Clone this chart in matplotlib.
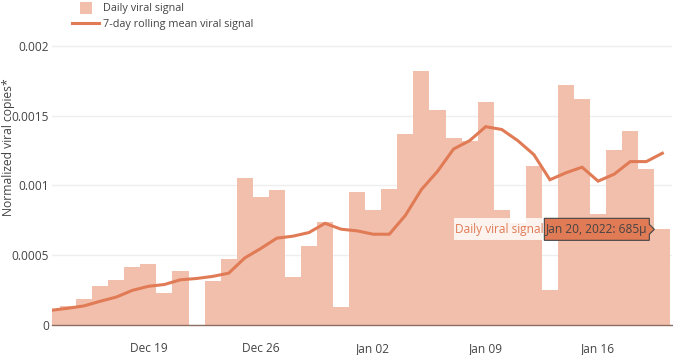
import matplotlib
matplotlib.use("Agg")
import matplotlib.pyplot as plt
from matplotlib.lines import Line2D
from matplotlib.patches import Polygon, Rectangle
import numpy as np

plt.rcParams['font.family'] = ['Open Sans', 'DejaVu Sans']

# ---- data ----
dates = ["Dec 13", "Dec 14", "Dec 15", "Dec 16", "Dec 17", "Dec 18", "Dec 19", "Dec 20",
         "Dec 21", "Dec 22", "Dec 23", "Dec 24", "Dec 25", "Dec 26", "Dec 27", "Dec 28",
         "Dec 29", "Dec 30", "Dec 31", "Jan 01", "Jan 02", "Jan 03", "Jan 04", "Jan 05",
         "Jan 06", "Jan 07", "Jan 08", "Jan 09", "Jan 10", "Jan 11", "Jan 12", "Jan 13",
         "Jan 14", "Jan 15", "Jan 16", "Jan 17", "Jan 18", "Jan 19", "Jan 20"]
daily_signal = [0.000106, 0.000135, 0.000184, 0.000277, 0.000319, 0.000418, 0.000440, 0.000229,
                0.000385, np.nan, 0.000317, 0.000475, 0.001050, 0.000915, 0.000967, 0.000343,
                0.000567, 0.000738, 0.000127, 0.000952, 0.000827, 0.000976, 0.001370, 0.001820,
                0.001540, 0.001340, 0.001320, 0.001600, 0.000827, 0.000733, 0.001140, 0.000248,
                0.001720, 0.001620, 0.000797, 0.001250, 0.001390, 0.001120, 0.000685]
rolling_mean = [0.000106, 0.000120, 0.000137, 0.000170, 0.000200, 0.000248, 0.000277, 0.000290,
                0.000324, 0.000333, 0.000348, 0.000371, 0.000480, 0.000548, 0.000622, 0.000636,
                0.000662, 0.000728, 0.000686, 0.000674, 0.000650, 0.000650, 0.000785, 0.000970,
                0.001100, 0.001260, 0.001320, 0.001420, 0.001400, 0.001320, 0.001220, 0.001040,
                0.001090, 0.001130, 0.001030, 0.001080, 0.001170, 0.001170, 0.001230]
tick_labels = ["Dec 19", "Dec 26", "Jan 02", "Jan 09", "Jan 16"]
y_ticks = [0, 0.0005, 0.001, 0.0015, 0.002]
y_tick_labels = ["0", "0.0005", "0.001", "0.0015", "0.002"]
hover_name = "Daily viral signal"
hover_text = "Jan 20, 2022: 685\u03bc"

line_color = "#e07b56"
bar_color = "#f2bfac"
text_color = "#444444"

W, H = 673, 355
fig = plt.figure(figsize=(W / 100, H / 100), dpi=100)
ax = fig.add_axes([52 / W, 1 - 325 / H, (672 - 52) / W, (325 - 38) / H])

x = np.arange(len(dates))
ax.bar(x, daily_signal, width=1.0, color=bar_color, linewidth=0, zorder=2,
       label="Daily viral signal")
ax.plot(x, rolling_mean, color=line_color, linewidth=2.2, zorder=3,
        solid_joinstyle='miter', label="7-day rolling mean viral signal")

ax.set_xlim(0, len(dates) - 1 + 0.6)
ax.set_ylim(0, 0.002055)

ax.set_yticks(y_ticks)
ax.set_yticklabels(y_tick_labels)
ax.set_xticks([dates.index(t) for t in tick_labels])
ax.set_xticklabels(tick_labels)
ax.tick_params(axis='both', length=0, labelsize=8.6, labelcolor=text_color)
ax.tick_params(axis='y', pad=2)
ax.tick_params(axis='x', pad=12)

ax.grid(axis='y', color='#eeeeee', linewidth=1, zorder=0)
ax.set_axisbelow(True)
for s in ['top', 'right', 'left']:
    ax.spines[s].set_visible(False)
ax.spines['bottom'].set_color('#8c6d62')
ax.spines['bottom'].set_linewidth(1)
ax.spines['bottom'].set_zorder(4)

fig.text(8.5 / W, 1 - 147.5 / H, "Normalized viral copies*", rotation=90,
         ha='center', va='center', fontsize=8.7, color=text_color)

# legend
handles = [Line2D([], [], linestyle='none', marker='s', markersize=8.5,
                  markerfacecolor=bar_color, markeredgewidth=0),
           Line2D([], [], color=line_color, linewidth=2.2)]
labels = ["Daily viral signal", "7-day rolling mean viral signal"]
fig.legend(handles, labels, loc='upper left', bbox_to_anchor=(72 / W, 1 - 3.5 / H),
           frameon=False, fontsize=7.8, handlelength=2.5, handletextpad=0.4,
           borderpad=0, borderaxespad=0, labelspacing=0.42, labelcolor=text_color)

# hover label anchored at the Jan 20 bar
idx = len(dates) - 1
ax_x, ax_y = ax.transData.transform((idx - 0.5, daily_signal[idx]))
R = ax_x - 5
L = ax_x - 110
NL = ax_x - 200
hh = 11
poly = Polygon([(L, ax_y - hh), (R, ax_y - hh), (R, ax_y - 5), (ax_x, ax_y),
                (R, ax_y + 5), (R, ax_y + hh), (L, ax_y + hh)], closed=True,
               transform=None, facecolor=line_color, edgecolor='#444444',
               linewidth=0.8, zorder=10)
fig.patches.append(poly)
name_box = Rectangle((NL, ax_y - hh), L - NL, 2 * hh, transform=None,
                     facecolor='white', alpha=0.8, edgecolor='none', zorder=9)
fig.patches.append(name_box)
fig.text((L + R) / 2 / W, ax_y / H, hover_text, ha='center', va='center',
         fontsize=8.6, color=text_color, zorder=11)
fig.text((NL + L) / 2 / W, ax_y / H, hover_name, ha='center', va='center',
         fontsize=8.6, color=line_color, zorder=11)

fig.savefig("out.png", dpi=100)
